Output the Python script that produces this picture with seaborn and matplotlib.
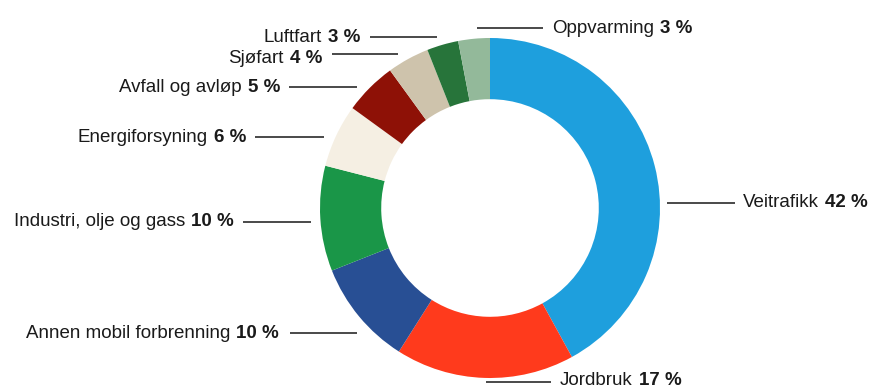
import matplotlib
matplotlib.use("Agg")
import matplotlib.pyplot as plt
import seaborn as sns

sns.set_theme(style="white")
plt.rcParams["font.family"] = ["Liberation Sans", "DejaVu Sans"]

# Emission shares by source, clockwise from twelve o'clock
categories = ["Veitrafikk", "Jordbruk", "Annen mobil forbrenning",
              "Industri, olje og gass", "Energiforsyning", "Avfall og avløp",
              "Sjøfart", "Luftfart", "Oppvarming"]
shares = [42, 17, 10, 10, 6, 5, 4, 3, 3]
colors = ["#1E9FDD", "#FF3A1C", "#284F94", "#1A9648", "#F5EFE3",
          "#8E1106", "#CEC3AC", "#27743A", "#93B99A"]

# Label layout in pixels:
# (side, text anchor x, text baseline y, leader x0, leader x1, leader y)
label_layout = {
    "Veitrafikk":              ("right", 743, 207, 667, 735, 203),
    "Jordbruk":                ("right", 560, 385, 486, 551, 382),
    "Annen mobil forbrenning": ("left", 279, 338, 290, 357, 333),
    "Industri, olje og gass":  ("left", 234, 226, 243, 311, 222),
    "Energiforsyning":         ("left", 246, 142, 255, 324, 137),
    "Avfall og avløp":         ("left", 280, 92, 289, 357, 87),
    "Sjøfart":                 ("left", 322, 63, 332, 398, 54),
    "Luftfart":                ("left", 360, 42, 370, 437, 37),
    "Oppvarming":              ("right", 552, 33, 477, 543, 28),
}

W, H = 889, 390
CX, CY, R = 490, 208, 170  # pie centre and radius in pixels

fig = plt.figure(figsize=(W / 100, H / 100), dpi=100)
ax = fig.add_axes([0, 0, 1, 1])

ax.pie(shares, colors=colors, startangle=90, counterclock=False,
       radius=1.0, wedgeprops=dict(width=0.36, linewidth=0))

# pie() resets the limits, so fix the view afterwards
ax.set_aspect("auto")
ax.set_xlim(-CX / R, (W - CX) / R)
ax.set_ylim(-(H - CY) / R, CY / R)
ax.axis("off")


def px(x, y):
    return (x - CX) / R, (CY - y) / R


fs = 13.5
gap = 4.5
txt_color = "#1a1a1a"
for name, val in zip(categories, shares):
    side, tx, ty, lx0, lx1, ly = label_layout[name]
    (ax0, ay), (ax1, _) = px(lx0, ly), px(lx1, ly)
    ax.plot([ax0, ax1], [ay, ay], color="#3a3a3a", lw=1.3,
            solid_capstyle="butt")
    x, y = px(tx, ty)
    if side == "left":
        v = ax.text(x, y, f"{val} %", ha="right", va="baseline",
                    fontsize=fs, fontweight="bold", color=txt_color)
        ax.annotate(name, xy=(0, y), xycoords=(v, "data"),
                    xytext=(-gap, 0), textcoords="offset points",
                    ha="right", va="baseline", fontsize=fs,
                    color=txt_color)
    else:
        n = ax.text(x, y, name, ha="left", va="baseline",
                    fontsize=fs, color=txt_color)
        ax.annotate(f"{val} %", xy=(1, y), xycoords=(n, "data"),
                    xytext=(gap, 0), textcoords="offset points",
                    ha="left", va="baseline", fontsize=fs,
                    fontweight="bold", color=txt_color)

fig.savefig("out.png", dpi=100, facecolor="white")
